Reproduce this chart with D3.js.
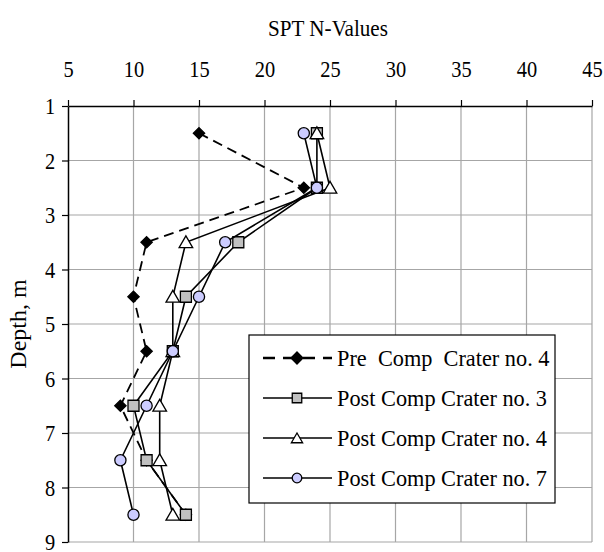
<!DOCTYPE html>
<html><head><meta charset="utf-8">
<script src="https://cdn.jsdelivr.net/npm/d3@7"></script>
<style>body{margin:0;background:#fff;} svg{display:block;} text{font-family:"Liberation Serif","Times New Roman",serif;fill:#000;}</style>
</head><body>
<script>
const depths = [1.5, 2.5, 3.5, 4.5, 5.5, 6.5, 7.5, 8.5];
const preComp4 = [15, 23, 11, 10, 11, 9, 11, 14];
const postComp3 = [24, 24, 18, 14, 13, 10, 11, 14];
const postComp4 = [24, 25, 14, 13, 13, 12, 12, 13];
const postComp7 = [23, 24, 17, 15, 13, 11, 9, 10];
const seriesNames = ["Pre  Comp  Crater no. 4", "Post Comp Crater no. 3", "Post Comp Crater no. 4", "Post Comp Crater no. 7"];
const xTicks = [5, 10, 15, 20, 25, 30, 35, 40, 45];
const yTicks = [1, 2, 3, 4, 5, 6, 7, 8, 9];
const xTitle = "SPT N-Values";
const yTitle = "Depth, m";

const W = 604, H = 552;
const svg = d3.select("body").append("svg").attr("width", W).attr("height", H);
const x = d3.scaleLinear().domain([5, 45]).range([68, 592]);
const y = d3.scaleLinear().domain([1, 9]).range([106, 542]);

// grid
const grid = svg.append("g").attr("stroke", "#a6a6a6").attr("stroke-width", 1.2);
grid.selectAll("line.v").data(xTicks.slice(1)).join("line")
  .attr("x1", d => x(d)).attr("x2", d => x(d)).attr("y1", y(1)).attr("y2", y(9));
grid.selectAll("line.h").data(yTicks.slice(1)).join("line")
  .attr("x1", x(5)).attr("x2", x(45)).attr("y1", d => y(d)).attr("y2", d => y(d));

// axes
const xAxis = svg.append("g").attr("transform", `translate(0,${y(1)})`)
  .call(d3.axisTop(x).tickValues(xTicks).tickSize(6).tickSizeOuter(0).tickPadding(23));
const yAxis = svg.append("g").attr("transform", `translate(${x(5)},0)`)
  .call(d3.axisLeft(y).tickValues(yTicks).tickSize(6).tickSizeOuter(0).tickPadding(9));
[xAxis, yAxis].forEach(a => {
  a.select(".domain").attr("stroke", "#000").attr("stroke-width", 1.5);
  a.selectAll(".tick line").attr("stroke", "#000").attr("stroke-width", 1.2);
  a.selectAll("text").attr("font-family", "Liberation Serif").attr("font-size", 24);
});
xAxis.selectAll(".tick text").attr("transform", "scale(0.85,1)");
yAxis.selectAll(".tick text").attr("transform", "scale(0.85,1)").attr("dy", "0.32em");

// titles
svg.append("text").attr("transform", `translate(${(x(5)+x(45))/2 - 2},36) scale(0.88,1)`)
  .attr("text-anchor", "middle").attr("font-size", 24).text(xTitle);
svg.append("text").attr("transform", `translate(26,${(y(1)+y(9))/2}) rotate(-90)`)
  .attr("text-anchor", "middle").attr("font-size", 24).text(yTitle);

const diamond = {draw(ctx, size) { const r = Math.sqrt(size / 2); ctx.moveTo(0, -r); ctx.lineTo(r, 0); ctx.lineTo(0, r); ctx.lineTo(-r, 0); ctx.closePath(); }};
const seriesVals = [preComp4, postComp3, postComp4, postComp7];
const styles = [
  {dash: "10,6", sym: diamond, size: 64, fill: "#000"},
  {dash: null, sym: d3.symbolSquare, size: 121, fill: "#c0c0c0"},
  {dash: null, sym: d3.symbolTriangle, size: 80, fill: "#fff"},
  {dash: null, sym: "circle", size: 5.6, fill: "#ccccff"}
];
const line = d3.line().x(d => x(d[0])).y(d => y(d[1]));

function drawMarker(g, st, cx, cy) {
  if (st.sym === "circle") {
    g.append("circle").attr("cx", cx).attr("cy", cy).attr("r", st.size)
      .attr("fill", st.fill).attr("stroke", "#000").attr("stroke-width", 1.3);
  } else {
    const dy = st.sym === d3.symbolTriangle ? 1.5 : 0;
    g.append("path").attr("d", d3.symbol().type(st.sym).size(st.size)())
      .attr("transform", `translate(${cx},${cy + dy})`)
      .attr("fill", st.fill).attr("stroke", "#000").attr("stroke-width", 1.3);
  }
}

seriesVals.forEach((vals, i) => {
  const st = styles[i];
  const pts = vals.map((v, j) => [v, depths[j]]);
  const g = svg.append("g");
  g.append("path").attr("d", line(pts)).attr("fill", "none").attr("stroke", "#000")
    .attr("stroke-width", i === 0 ? 1.8 : 1.6).attr("stroke-dasharray", st.dash);
  pts.forEach(p => drawMarker(g, st, x(p[0]), y(p[1])));
});

// legend
const lg = svg.append("g");
lg.append("rect").attr("x", 249).attr("y", 335).attr("width", 306).attr("height", 168)
  .attr("fill", "#fff").attr("stroke", "#000").attr("stroke-width", 1.2);
const legendSizes = [72, 90, 55, 4.8];
seriesNames.forEach((name, i) => {
  const st = styles[i];
  const ry = 358 + i * 40;
  lg.append("line").attr("x1", 263).attr("x2", 332).attr("y1", ry).attr("y2", ry)
    .attr("stroke", "#000").attr("stroke-width", i === 0 ? 2.6 : 1.6).attr("stroke-dasharray", i === 0 ? "12,8" : null);
  drawMarker(lg, Object.assign({}, st, {size: legendSizes[i]}), 297, ry);
  lg.append("text").attr("transform", `translate(337,${ry + 8}) scale(0.93,1)`)
    .attr("font-size", 24).style("white-space", "pre").text(name);
});
</script>
</body></html>
